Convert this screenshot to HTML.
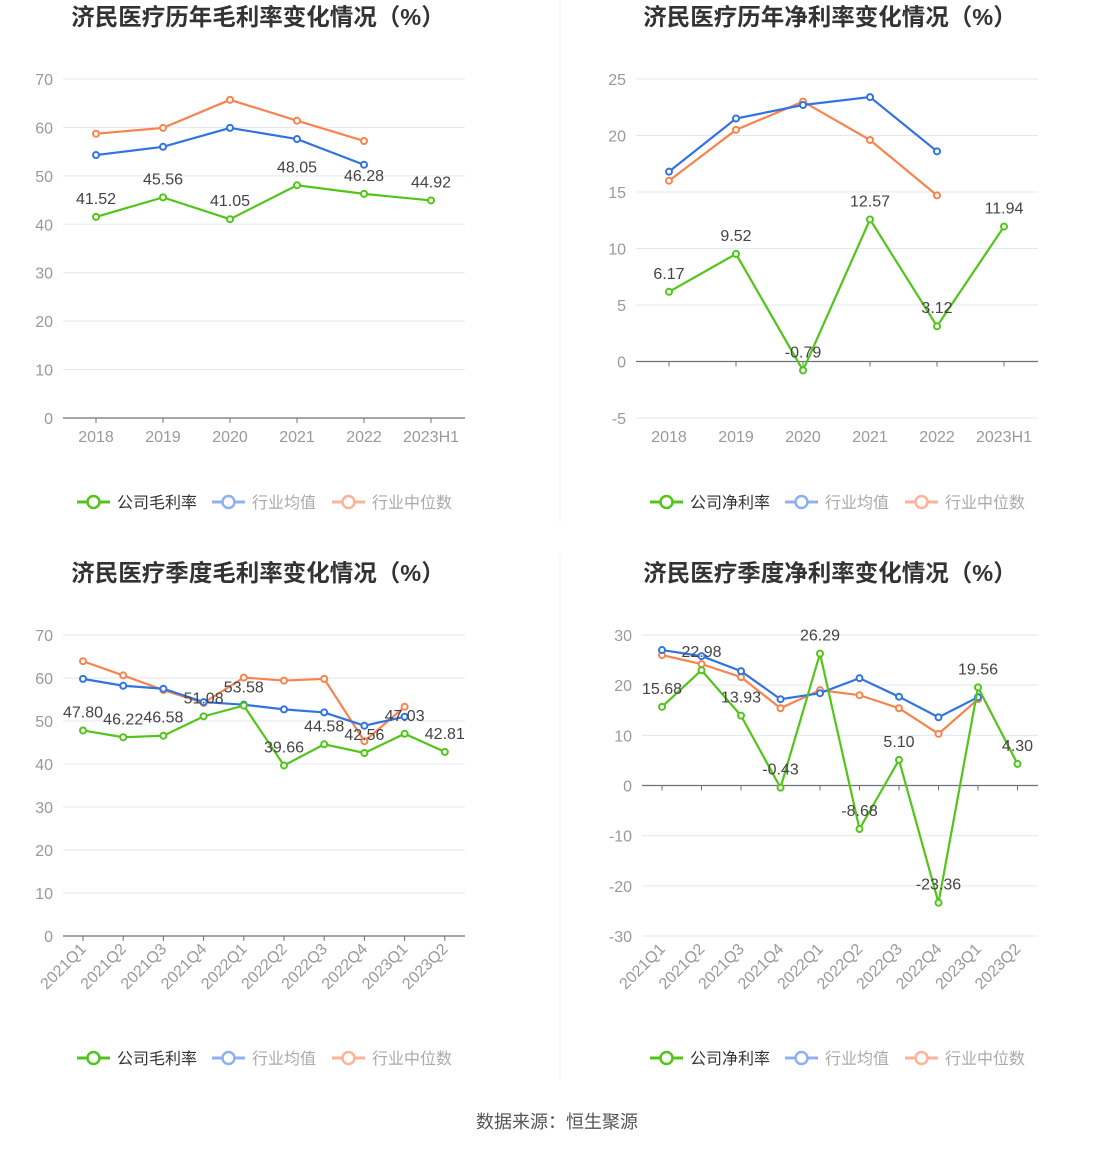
<!DOCTYPE html>
<html><head><meta charset="utf-8">
<style>
body{margin:0;background:#fff;}
svg{display:block;font-family:"Liberation Sans","Noto Sans CJK SC",sans-serif;}
</style></head>
<body>
<svg id="root" width="1114" height="1149" viewBox="0 0 1114 1149">
<line x1="560" y1="0" x2="560" y2="522" stroke="#eef0f4"/>
<line x1="560" y1="556" x2="560" y2="1078" stroke="#eef0f4"/>
<text x="557" y="1128" text-anchor="middle" font-size="18" fill="#555">数据来源：恒生聚源</text>
</svg>
<script>
const yearCats=["2018","2019","2020","2021","2022","2023H1"];
const qCats=["2021Q1","2021Q2","2021Q3","2021Q4","2022Q1","2022Q2","2022Q3","2022Q4","2023Q1","2023Q2"];
const grossYearCo=[41.52,45.56,41.05,48.05,46.28,44.92];
const grossYearAvg=[54.3,56.0,59.9,57.6,52.3];
const grossYearMed=[58.7,59.9,65.7,61.4,57.2];
const netYearCo=[6.17,9.52,-0.79,12.57,3.12,11.94];
const netYearAvg=[16.8,21.5,22.7,23.4,18.6];
const netYearMed=[16.0,20.5,23.0,19.6,14.7];
const grossQCo=[47.80,46.22,46.58,51.08,53.58,39.66,44.58,42.56,47.03,42.81];
const grossQAvg=[59.8,58.2,57.5,54.4,53.8,52.7,52.0,48.9,51.0];
const grossQMed=[63.9,60.6,57.2,54.2,60.1,59.4,59.8,45.3,53.3];
const netQCo=[15.68,22.98,13.93,-0.43,26.29,-8.68,5.10,-23.36,19.56,4.30];
const netQAvg=[27.0,25.8,22.8,17.2,18.4,21.4,17.7,13.6,17.6];
const netQMed=[26.0,24.2,21.6,15.4,19.0,18.0,15.4,10.3,17.2];
const grossTicks=[0,10,20,30,40,50,60,70];
const netYearTicks=[-5,0,5,10,15,20,25];
const netQTicks=[-30,-20,-10,0,10,20,30];

const NS="http://www.w3.org/2000/svg";
const root=document.getElementById('root');
function mk(tag,attrs,parent,txt){const e=document.createElementNS(NS,tag);for(const k in attrs)e.setAttribute(k,attrs[k]);if(txt!==undefined)e.textContent=txt;(parent||root).appendChild(e);return e;}

function chart(cfg){
  const g=mk('g',{});
  
  
  const t=mk('text',{x:cfg.tx,y:cfg.ty,'text-anchor':'middle','font-size':23.5,'font-weight':'bold',fill:'#333'},g,cfg.title);
  
  
  const min=cfg.ticks[0],max=cfg.ticks[cfg.ticks.length-1];
  const y=v=>cfg.yb-(v-min)/(max-min)*(cfg.yb-cfg.yt);
  const x=i=>cfg.x0+cfg.step*i;
  cfg.ticks.forEach(v=>{
    if(v!==0){const l=mk('line',{x1:cfg.pl,x2:cfg.pr,y1:y(v),y2:y(v),stroke:'#e3e7f0'},g);
    
    }
    const tl=mk('text',{x:cfg.pl-10,y:y(v)+6,'text-anchor':'end','font-size':16,fill:'#999'},g,String(v));
    
    
  });
  const ax=mk('line',{x1:cfg.pl,x2:cfg.pr,y1:y(0),y2:y(0),stroke:'#6e7079','stroke-width':1.2},g);
  
  
  cfg.cats.forEach((c,i)=>{
    const tk=mk('line',{x1:x(i),x2:x(i),y1:y(0),y2:y(0)+5,stroke:'#6e7079'},g);
    
    
    let lb;
    if(cfg.rot){lb=mk('text',{x:x(i)+4,y:cfg.ly,'text-anchor':'end','font-size':16,fill:'#999',transform:`rotate(-45 ${x(i)+4} ${cfg.ly})`},g,c);}
    else lb=mk('text',{x:x(i),y:cfg.ly,'text-anchor':'middle','font-size':16,fill:'#999'},g,c);
    
    
  });
  const series=[[cfg.med,'#f9834f','industry-median-line'],[cfg.avg,'#3273e2','industry-average-line'],[cfg.co,'#52c41a','company-line']];
  series.forEach(([d,col,nm])=>{
    const p=mk('polyline',{points:d.map((v,i)=>x(i)+','+y(v)).join(' '),fill:'none',stroke:col,'stroke-width':2.2},g);
    
    
    d.forEach((v,i)=>{const c=mk('circle',{cx:x(i),cy:y(v),r:3,fill:'#fff',stroke:col,'stroke-width':2},g);
      
      });
  });
  cfg.co.forEach((v,i)=>{
    const tl=mk('text',{x:x(i),y:y(v)-13,'text-anchor':'middle','font-size':16,fill:'#444'},g,v.toFixed(2));
    
    
  });
  const lg=[['#52c41a',cfg.lbl,'#333'],['#8fb0f0','行业均值','#aaa'],['#fbb49a','行业中位数','#aaa']];
  const lx=[cfg.lgx,cfg.lgx+135,cfg.lgx+255];
  lg.forEach(([col,txt,tc],k)=>{
    const e=mk('g',{},g);
    
    
    mk('line',{x1:lx[k],x2:lx[k]+33,y1:cfg.lgy,y2:cfg.lgy,stroke:col,'stroke-width':3},e);
    mk('circle',{cx:lx[k]+16.5,cy:cfg.lgy,r:6,fill:'#fff',stroke:col,'stroke-width':2.5},e);
    mk('text',{x:lx[k]+40,y:cfg.lgy+6,'font-size':16,fill:tc},e,txt);
  });
}
chart({name:'annual-gross-margin-chart',title:'济民医疗历年毛利率变化情况（%）',tx:258,ty:25,ticks:grossTicks,yt:79,yb:418,pl:63,pr:465,x0:96,step:67,cats:yearCats,co:grossYearCo,avg:grossYearAvg,med:grossYearMed,ly:442,lbl:'公司毛利率',lgx:77,lgy:502});
chart({name:'annual-net-margin-chart',title:'济民医疗历年净利率变化情况（%）',tx:830,ty:25,ticks:netYearTicks,yt:79,yb:418,pl:636,pr:1038,x0:669,step:67,cats:yearCats,co:netYearCo,avg:netYearAvg,med:netYearMed,ly:442,lbl:'公司净利率',lgx:650,lgy:502});
chart({name:'quarterly-gross-margin-chart',title:'济民医疗季度毛利率变化情况（%）',tx:258,ty:581,ticks:grossTicks,yt:635,yb:936,pl:63,pr:465,x0:83,step:40.2,cats:qCats,co:grossQCo,avg:grossQAvg,med:grossQMed,ly:950,rot:true,lbl:'公司毛利率',lgx:77,lgy:1058});
chart({name:'quarterly-net-margin-chart',title:'济民医疗季度净利率变化情况（%）',tx:830,ty:581,ticks:netQTicks,yt:635,yb:936,pl:642,pr:1038,x0:662,step:39.5,cats:qCats,co:netQCo,avg:netQAvg,med:netQMed,ly:950,rot:true,lbl:'公司净利率',lgx:650,lgy:1058});
</script>
</body></html>
